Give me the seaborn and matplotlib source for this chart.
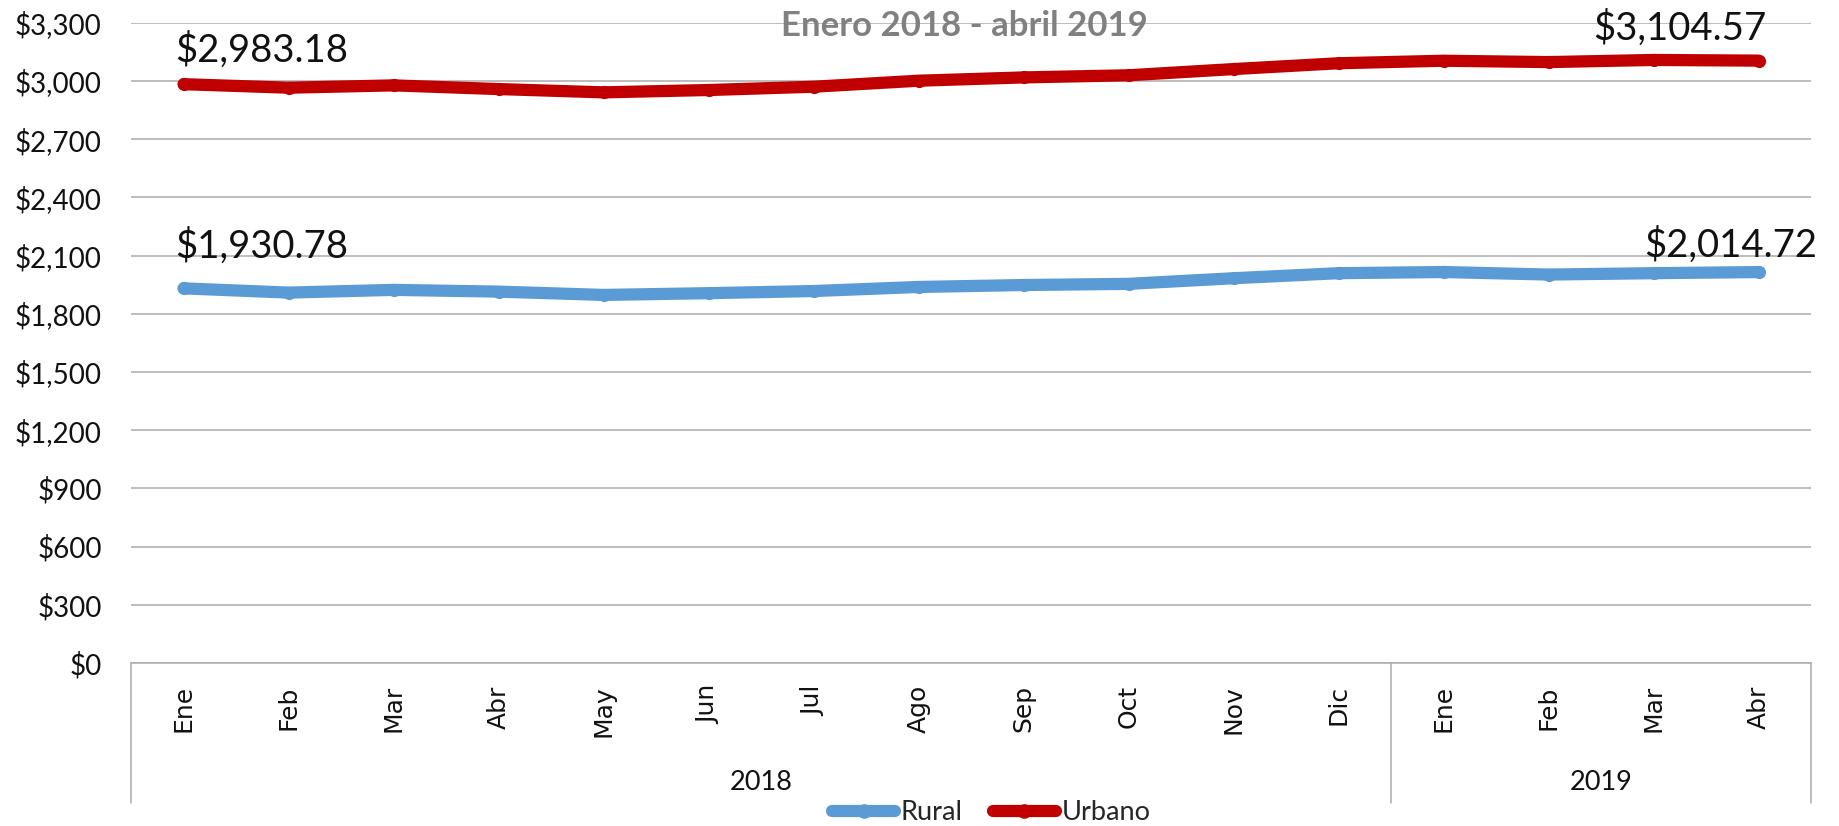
import numpy as np
import pandas as pd
import matplotlib
matplotlib.use("Agg")
import matplotlib.pyplot as plt
import matplotlib.transforms as mtransforms
from matplotlib.lines import Line2D
import seaborn as sns

# Monthly values, January 2018 - April 2019
months = ["Ene", "Feb", "Mar", "Abr", "May", "Jun", "Jul", "Ago", "Sep", "Oct",
          "Nov", "Dic", "Ene", "Feb", "Mar", "Abr"]
years = ["2018"] * 12 + ["2019"] * 4
rural = [1930.78, 1909, 1923, 1914, 1897, 1906, 1917, 1938, 1948, 1954,
         1983, 2009, 2015, 2002, 2009, 2014.72]
urbano = [2983.18, 2965, 2977, 2958, 2941, 2953, 2970, 3001, 3018, 3029,
          3061, 3091, 3104, 3097, 3108, 3104.57]
series_names = ["Rural", "Urbano"]
yticks = list(range(0, 3301, 300))
title = "Enero 2018 - abril 2019"

colors = {"Rural": "#5B9BD5", "Urbano": "#C00000"}
grid_color = "#ABABAB"

sns.set_theme(style="white")
plt.rcParams["font.family"] = ["Lato", "DejaVu Sans"]

df = pd.DataFrame({
    "pos": list(range(len(months))) * 2,
    "valor": rural + urbano,
    "serie": ["Rural"] * len(rural) + ["Urbano"] * len(urbano),
})

fig = plt.figure(figsize=(18.39, 8.26), dpi=100)
ax = fig.add_axes([131 / 1839, 1 - 663 / 826, (1811 - 131) / 1839, (663 - 22.7) / 826])

sns.lineplot(data=df, x="pos", y="valor", hue="serie", hue_order=series_names,
             palette=colors, marker="o", markersize=9.5, markeredgewidth=0,
             linewidth=8.8, ax=ax, legend=False, zorder=3,
             solid_capstyle="round", solid_joinstyle="round")

ax.set_xlim(-0.5, len(months) - 0.5)
ax.set_ylim(0, 3300)
ax.set_yticks(yticks)
ax.set_yticklabels([f"${v:,.0f}" for v in yticks], fontsize=20, color="#111111")
ax.yaxis.grid(True, color=grid_color, linewidth=1.1)
ax.set_axisbelow(True)
ax.tick_params(axis="y", length=0, pad=21)
ax.set_xlabel("")
ax.set_ylabel("")

ax.set_xticks(range(len(months)))
ax.set_xticklabels(months, rotation=90, fontsize=18, family="DejaVu Sans",
                   color="#111111", va="top", ha="center")
ax.tick_params(axis="x", length=0, pad=16)

for side in ["left", "right", "top"]:
    ax.spines[side].set_visible(False)
ax.spines["bottom"].set_color(grid_color)
ax.spines["bottom"].set_linewidth(1.1)

# Two-level category axis: year separators and year labels
for xb in [-0.5, 11.5, len(months) - 0.5]:
    ax.axvline(xb, ymin=-0.2187, ymax=0, color=grid_color, linewidth=1.1,
               clip_on=False)
trans = mtransforms.blended_transform_factory(ax.transData, ax.transAxes)
for yr in ["2018", "2019"]:
    idx = [i for i, y in enumerate(years) if y == yr]
    ax.text((idx[0] + idx[-1]) / 2, -0.1874, yr, transform=trans,
            ha="center", va="center", fontsize=19.5, color="#111111")

# Value labels at first and last month
label_specs = [
    (urbano, 0, (-6, 16), "left"),
    (urbano, len(months) - 1, (6, 15), "right"),
    (rural, 0, (-6, 22), "left"),
    (rural, len(months) - 1, (42, 11), "right"),
]
for vals, i, off, ha in label_specs:
    ax.annotate(f"${vals[i]:,.2f}", xy=(i, vals[i]), xytext=off,
                textcoords="offset points", ha=ha, va="baseline",
                fontsize=27.5, color="#111111")

ax.text(0.496, (663 - 26) / (663 - 22.7), title, transform=ax.transAxes,
        ha="center", va="center", fontsize=25, fontweight="bold",
        color="#808080")

handles = [Line2D([0], [0], color=colors[s], linewidth=8.8, marker="o",
                  markersize=9.5, solid_capstyle="round") for s in series_names]
fig.legend(handles, series_names, loc="center", bbox_to_anchor=(0.539, 13 / 826),
           ncol=2, frameon=False, fontsize=19.5, handlelength=2.35,
           handletextpad=0.2, columnspacing=1.1, borderpad=0)

fig.savefig("out.png", dpi=100)
